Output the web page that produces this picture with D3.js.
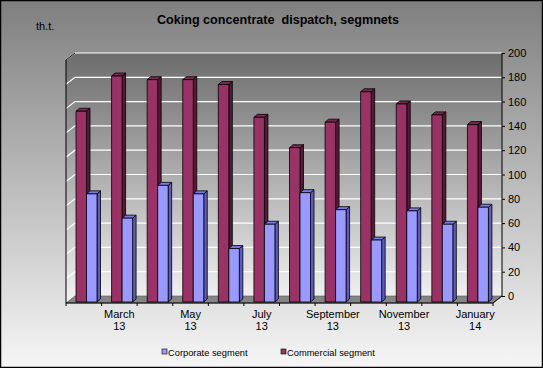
<!DOCTYPE html>
<html><head><meta charset="utf-8">
<script src="https://cdn.jsdelivr.net/npm/d3@7"></script>
<style>html,body{margin:0;padding:0;background:#fff}svg{display:block}text{font-family:Arial,"Liberation Sans",sans-serif}</style>
</head><body>
<script>
const categories = ["Feb 13","Mar 13","Apr 13","May 13","Jun 13","Jul 13","Aug 13","Sep 13","Oct 13","Nov 13","Dec 13","Jan 14"];
const tickLabels = [["",""],["March","13"],["",""],["May","13"],["",""],["July","13"],["",""],["September","13"],["",""],["November","13"],["",""],["January","14"]];
const commercial = [157,186,183,183,179,152,127,148,173,163,154,146];
const corporate  = [89,69,96,89,44,64,90,76,51,75,64,78];
const seriesNames = ["Corporate segment","Commercial segment"];
const yTicks = [0,20,40,60,80,100,120,140,160,180,200];

const W=543,H=368;
const svg=d3.select("body").append("svg").attr("width",W).attr("height",H);
const defs=svg.append("defs");
const g1=defs.append("linearGradient").attr("id","bg").attr("x1",0).attr("y1",0).attr("x2",0).attr("y2",1);
g1.append("stop").attr("offset","0%").attr("stop-color","#7f7f7f");
g1.append("stop").attr("offset","100%").attr("stop-color","#f6f6f6");
const g2=defs.append("linearGradient").attr("id","wall").attr("gradientUnits","userSpaceOnUse").attr("x1",0).attr("y1",53).attr("x2",0).attr("y2",303);
g2.append("stop").attr("offset","0%").attr("stop-color","#6c6c6c");
g2.append("stop").attr("offset","100%").attr("stop-color","#f3f3f3");

svg.append("rect").attr("x",0.5).attr("y",0.5).attr("width",W-1).attr("height",H-1).attr("fill","url(#bg)").attr("stroke","#000").attr("stroke-width",1.5);

// geometry
const left=66,right=493,front=303,ddx=9,ddy=-7;
const x0=d3.scaleBand().domain(categories).range([left,right]);
const x1=d3.scaleBand().domain(["commercial","corporate"]).range([10,31]);
const yWall=d3.scaleLinear().domain([0,200]).range([front+ddy,53]);
const yBar=d3.scaleLinear().domain([0,200]).range([302,302-(yWall(0)-yWall(200))]);

// walls
svg.append("path").attr("d",`M${left},${front}L${left},${yWall(200)-ddy}L${left+ddx},${yWall(200)}L${right+ddx},${yWall(200)}L${right+ddx},${yWall(0)}L${left+ddx},${yWall(0)}Z`).attr("fill","url(#wall)");
// gridlines
const grid=svg.append("g");
yTicks.filter(t=>t>0).forEach(t=>{
  grid.append("path").attr("d",`M${left},${yWall(t)-ddy}L${left+ddx},${yWall(t)}L${right+ddx},${yWall(t)}`).attr("fill","none").attr("stroke","#fff").attr("stroke-width",1.2);
});
// floor
svg.append("path").attr("d",`M${left},${front}L${right},${front}L${right+ddx},${yWall(0)}L${left+ddx},${yWall(0)}Z`).attr("fill","#858585").attr("stroke","#555").attr("stroke-width",0.6);
// left wall edge
svg.append("path").attr("d",`M${left},${front}L${left},${yWall(200)-ddy}L${left+ddx},${yWall(200)}`).attr("fill","none").attr("stroke","#000").attr("stroke-width",1);

// bars
const dx=3.5,dy=-3;
const cols={commercial:{f:"#993366",s:"#5a1838",t:"#7a2850"},corporate:{f:"#9999ff",s:"#5c5cbf",t:"#7a7ae0"}};
const barsG=svg.append("g");
categories.forEach((c,i)=>{
  [["commercial",commercial[i]],["corporate",corporate[i]]].forEach(([k,v])=>{
    const x=x0(c)+x1(k), w=x1.bandwidth(), yt=yBar(v), yb=yBar(0);
    const gg=barsG.append("g").attr("stroke","#000").attr("stroke-width",0.8).attr("stroke-linejoin","round");
    gg.append("path").attr("d",`M${x+w},${yt}L${x+w+dx},${yt+dy}L${x+w+dx},${yb+dy}L${x+w},${yb}Z`).attr("fill",cols[k].s);
    gg.append("path").attr("d",`M${x},${yt}L${x+dx},${yt+dy}L${x+w+dx},${yt+dy}L${x+w},${yt}Z`).attr("fill",cols[k].t);
    gg.append("rect").attr("x",x).attr("y",yt).attr("width",w).attr("height",yb-yt).attr("fill",cols[k].f);
  });
});

// right axis
const ax=svg.append("g").attr("transform",`translate(${right+ddx},0)`).call(d3.axisRight(yWall).tickValues(yTicks).tickSize(3).tickPadding(3));
ax.select(".domain").attr("d",`M0,${yWall(0)}V${yWall(200)}`).attr("stroke","#000");
ax.selectAll("text").attr("font-size",11).attr("fill","#000").attr("font-family","Arial,'Liberation Sans',sans-serif");
svg.append("path").attr("d",`M${right+ddx},${yWall(0)}L${right},${front}`).attr("stroke","#000").attr("fill","none");

// bottom axis edge + ticks
svg.append("path").attr("d",`M${left},${front}L${right},${front}`).attr("stroke","#000");
const bounds=categories.map(c=>x0(c)).concat([right]);
svg.append("g").selectAll("line").data(bounds).join("line").attr("x1",d=>d).attr("x2",d=>d).attr("y1",front).attr("y2",front+3).attr("stroke","#000");
const lab=svg.append("g").attr("font-size",11).attr("text-anchor","middle");
categories.forEach((c,i)=>{
  const cx=x0(c)+x0.bandwidth()/2;
  lab.append("text").attr("x",cx).attr("y",318).text(tickLabels[i][0]);
  lab.append("text").attr("x",cx).attr("y",330).text(tickLabels[i][1]);
});

// title and unit
svg.append("text").attr("x",278).attr("y",24).attr("text-anchor","middle").attr("font-size",12.6).attr("font-weight","bold").style("white-space","pre").text("Coking concentrate  dispatch, segmnets");
svg.append("text").attr("x",36).attr("y",30).attr("font-size",11).text("th.t.");

// legend
const leg=svg.append("g").attr("font-size",9.3);
[[162,"corporate",seriesNames[0]],[281,"commercial",seriesNames[1]]].forEach(([x,k,n])=>{
  leg.append("rect").attr("x",x).attr("y",349).attr("width",5).attr("height",5).attr("fill",cols[k].f).attr("stroke","#000").attr("stroke-width",0.6);
  leg.append("text").attr("x",x+6).attr("y",355.5).text(n);
});
</script>
</body></html>
